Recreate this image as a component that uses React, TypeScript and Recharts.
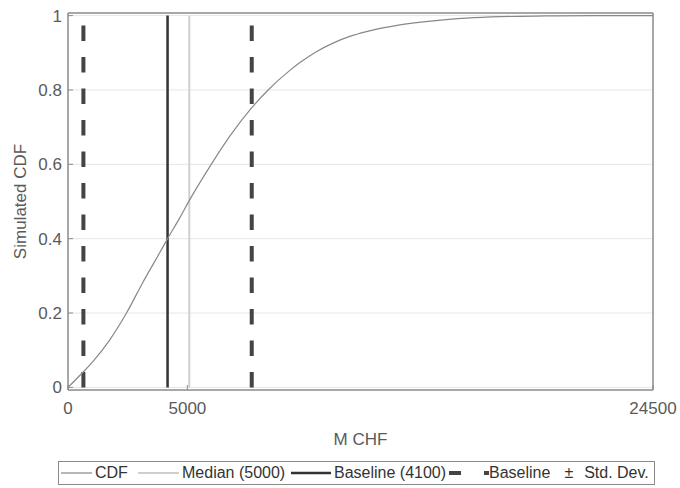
import React from 'react';
import {
  LineChart,
  Line,
  XAxis,
  YAxis,
  CartesianGrid,
  ReferenceLine,
  ReferenceArea,
  Legend,
} from 'recharts';

// simulated CDF (x in M CHF)
const cdfX = [0, 615, 1050, 1750, 2450, 3140, 3840, 4170, 4680, 5100, 6000, 6770, 7680, 8380, 9280, 9700, 10400, 11100, 11800, 12500, 13900, 15300, 16700, 18100, 20000, 22000, 24500];
const cdfY = [0, 0.04, 0.07, 0.128, 0.2, 0.283, 0.362, 0.4, 0.456, 0.505, 0.6, 0.675, 0.751, 0.8, 0.852, 0.873, 0.903, 0.926, 0.944, 0.957, 0.975, 0.986, 0.993, 0.997, 0.999, 1, 1];

const medianValue = 5080;
const baselineValue = 4170;
const stdLow = 645;
const stdHigh = 7695;

const xTicks = [0, 5000, 24500];
const yTicks = [0, 0.2, 0.4, 0.6, 0.8, 1];
const xDomain = [0, 24500];
const yDomain = [-0.007, 1.007];

const legendLabels = ['CDF', 'Median (5000)', 'Baseline (4100)'];

const data = cdfX.map((x, i) => ({ x, cdf: cdfY[i] }));

const FONT = '"Liberation Sans", Arial, sans-serif';
const AXIS = '#8a8a8a';
const TEXT = '#5a5a5a';

function LegendBox() {
  const txt = { position: 'absolute' as const, top: 1, fontSize: 16, color: '#333', lineHeight: '20px' };
  return (
    <div
      style={{
        position: 'relative',
        boxSizing: 'border-box',
        width: 597,
        height: 24,
        border: `1px solid ${AXIS}`,
        background: '#fff',
        fontFamily: FONT,
        whiteSpace: 'nowrap',
      }}
    >
      <svg width={597} height={22} style={{ position: 'absolute', left: 0, top: 0 }}>
        <line x1={2} x2={33} y1={11} y2={11} stroke="#888" strokeWidth={1.2} />
        <line x1={79} x2={120} y1={11} y2={11} stroke="#cfcfcf" strokeWidth={2} />
        <line x1={232} x2={272} y1={11} y2={11} stroke="#333" strokeWidth={2.5} />
        <line x1={390} x2={430} y1={11} y2={11} stroke="#444" strokeWidth={4} strokeDasharray="12 23" />
      </svg>
      <span style={{ ...txt, left: 36 }}>{legendLabels[0]}</span>
      <span style={{ ...txt, left: 123 }}>{legendLabels[1]}</span>
      <span style={{ ...txt, left: 275 }}>{legendLabels[2]}</span>
      <span style={{ ...txt, left: 430 }}>
        Baseline<span style={{ margin: '0 11px 0 14px' }}>{'\u00b1'}</span>Std. Dev.
      </span>
    </div>
  );
}

export default function App() {
  return (
    <div style={{ position: 'absolute', left: 0, top: 0, fontFamily: FONT }}>
      <LineChart
        width={680}
        height={488}
        data={data}
        margin={{ top: 12, right: 26, bottom: 40, left: 8 }}
      >
        <CartesianGrid vertical={false} stroke="#e6e6e6" horizontalValues={yTicks} />
        <XAxis
          dataKey="x"
          type="number"
          domain={xDomain}
          ticks={xTicks}
          allowDataOverflow
          height={58}
          tickSize={-5}
          tickMargin={17}
          stroke={AXIS}
          tick={{ fill: TEXT, fontSize: 17 }}
          label={{ value: 'M CHF', position: 'insideBottom', offset: 3, fill: TEXT, fontSize: 17 }}
        />
        <XAxis
          xAxisId="top"
          dataKey="x"
          orientation="top"
          type="number"
          domain={xDomain}
          ticks={xTicks}
          allowDataOverflow
          height={1}
          tickSize={-5}
          tick={false}
          stroke={AXIS}
        />
        <YAxis
          type="number"
          domain={yDomain}
          ticks={yTicks}
          allowDataOverflow
          width={60}
          tickSize={-5}
          tickMargin={11}
          stroke={AXIS}
          tick={{ fill: TEXT, fontSize: 17 }}
          label={{
            value: 'Simulated CDF',
            angle: -90,
            position: 'insideLeft',
            offset: 12,
            fill: TEXT,
            fontSize: 17,
            style: { textAnchor: 'middle' },
          }}
        />
        <YAxis
          yAxisId="right"
          orientation="right"
          type="number"
          domain={yDomain}
          ticks={yTicks}
          allowDataOverflow
          width={1}
          tickSize={-5}
          tick={false}
          stroke={AXIS}
        />
        {/* axes box */}
        <ReferenceArea
          x1={xDomain[0]}
          x2={xDomain[1]}
          y1={yDomain[0]}
          y2={yDomain[1]}
          fill="none"
          stroke={AXIS}
          strokeWidth={1}
          ifOverflow="visible"
        />
        <ReferenceLine
          segment={[{ x: medianValue, y: 0 }, { x: medianValue, y: 1 }]}
          stroke="#cfcfcf"
          strokeWidth={2}
        />
        <ReferenceLine
          segment={[{ x: baselineValue, y: 0 }, { x: baselineValue, y: 1 }]}
          stroke="#333"
          strokeWidth={2.5}
        />
        <ReferenceLine
          segment={[{ x: stdLow, y: 0 }, { x: stdLow, y: 1 }]}
          stroke="#444"
          strokeWidth={4}
          strokeDasharray="15.5 16"
        />
        <ReferenceLine
          segment={[{ x: stdHigh, y: 0 }, { x: stdHigh, y: 1 }]}
          stroke="#444"
          strokeWidth={4}
          strokeDasharray="15.5 16"
        />
        <Line
          dataKey="cdf"
          type="monotone"
          stroke="#888"
          strokeWidth={1.2}
          dot={false}
          activeDot={false}
          isAnimationActive={false}
        />
        {/* invisible copy so the top/right box axes get a domain */}
        <Line
          xAxisId="top"
          yAxisId="right"
          dataKey="cdf"
          stroke="none"
          dot={false}
          activeDot={false}
          legendType="none"
          isAnimationActive={false}
        />
        <Legend
          layout="vertical"
          align="center"
          verticalAlign="middle"
          content={() => <LegendBox />}
          wrapperStyle={{ left: 58, top: 461, width: 597, height: 24 }}
        />
      </LineChart>
    </div>
  );
}
